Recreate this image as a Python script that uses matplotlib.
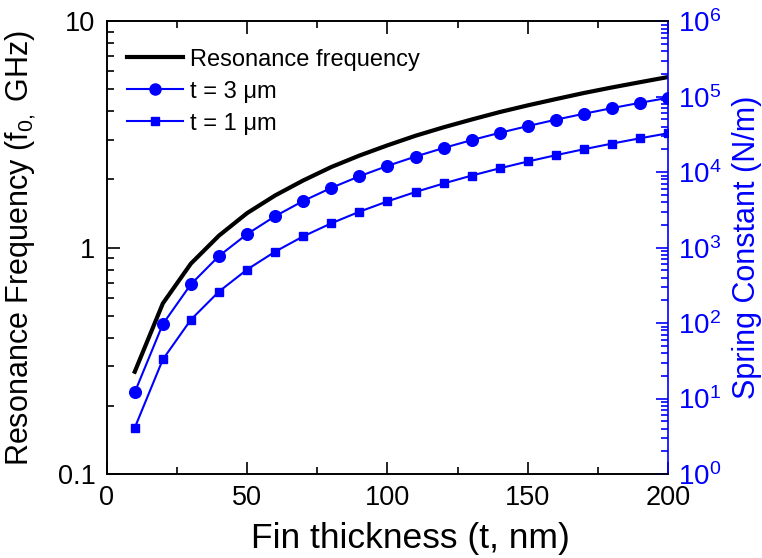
import matplotlib
matplotlib.use("Agg")
import matplotlib.pyplot as plt
from matplotlib.ticker import LogLocator, FixedLocator, FixedFormatter, LogFormatterMathtext, MultipleLocator, NullFormatter
from matplotlib.lines import Line2D

plt.rcParams['font.family'] = ['Liberation Sans', 'DejaVu Sans']
plt.rcParams['mathtext.fontset'] = 'custom'
plt.rcParams['mathtext.rm'] = 'Liberation Sans'
plt.rcParams['mathtext.it'] = 'Liberation Sans:italic'
plt.rcParams['mathtext.bf'] = 'Liberation Sans:bold'

# Data
thickness = [10, 20, 30, 40, 50, 60, 70, 80, 90, 100,
             110, 120, 130, 140, 150, 160, 170, 180, 190, 200]
freq_ghz = [0.283, 0.567, 0.85, 1.13, 1.42, 1.70, 1.98, 2.27, 2.55, 2.83,
            3.12, 3.40, 3.68, 3.97, 4.25, 4.53, 4.82, 5.10, 5.38, 5.67]
k_3um = [12.1, 97, 327, 775, 1510, 2610, 4150, 6190, 8820, 12100,
         16100, 20900, 26600, 33200, 40800, 49600, 59400, 70600, 83000, 96800]
k_1um = [4.1, 33, 111, 262, 512, 885, 1410, 2100, 2990, 4100,
         5460, 7080, 9010, 11250, 13840, 16790, 20140, 23910, 28120, 32800]

BLUE = (0, 0, 1)

fig = plt.figure(figsize=(7.62, 5.58), dpi=100)
ax = fig.add_axes([0.140, 0.1505, 0.737, 0.8115])
ax2 = ax.twinx()

ax.plot(thickness, freq_ghz, color='black', lw=3, zorder=3)
ax2.plot(thickness, k_3um, color=BLUE, lw=1.5, marker='o', ms=8.4, mec=BLUE, mfc=BLUE)
ax2.plot(thickness, k_1um, color=BLUE, lw=1.5, marker='s', ms=6, mec=BLUE, mfc=BLUE)

ax.set_xlim(0, 200)
ax.set_yscale('log')
ax.set_ylim(0.1, 10)
ax2.set_yscale('log')
ax2.set_ylim(1, 1e6)

# x ticks
ax.xaxis.set_major_locator(MultipleLocator(50))
ax.xaxis.set_minor_locator(MultipleLocator(25))
ax.tick_params(axis='x', which='both', direction='in', top=True, labelsize=19.5, pad=8, width=1.2)
ax.tick_params(axis='x', which='major', length=9)
ax.tick_params(axis='x', which='minor', length=5)

# left y ticks
ax.yaxis.set_major_locator(FixedLocator([0.1, 1, 10]))
ax.yaxis.set_major_formatter(FixedFormatter(['0.1', '1', '10']))
ax.yaxis.set_minor_locator(LogLocator(base=10, subs=range(2, 10), numticks=20))
ax.yaxis.set_minor_formatter(NullFormatter())
ax.tick_params(axis='y', which='both', direction='in', labelsize=19.5, pad=8, width=1.2, right=False)
ax.tick_params(axis='y', which='major', length=9)
ax.tick_params(axis='y', which='minor', length=5)

# right y ticks
ax2.yaxis.set_major_locator(LogLocator(base=10, numticks=10))
ax2.yaxis.set_major_formatter(LogFormatterMathtext())
ax2.yaxis.set_minor_locator(LogLocator(base=10, subs=range(2, 10), numticks=20))
ax2.yaxis.set_minor_formatter(NullFormatter())
ax2.tick_params(axis='y', which='both', direction='in', labelsize=20, pad=7, width=1.2,
                colors=BLUE, labelcolor=BLUE)
ax2.tick_params(axis='y', which='major', length=9)
ax2.tick_params(axis='y', which='minor', length=5)

for a in (ax, ax2):
    for s in a.spines.values():
        s.set_linewidth(1.2)
ax2.spines['right'].set_color(BLUE)
ax.spines['right'].set_visible(False)

ax.set_xlabel('Fin thickness (t, nm)', fontsize=25.5)
ax.xaxis.set_label_coords(0.54, -0.106)
ax.set_ylabel(r'Resonance Frequency (f$_{0,}$ GHz)', fontsize=22)
ax.yaxis.set_label_coords(-0.122, 0.5)
ax2.set_ylabel('Spring Constant (N/m)', fontsize=22, color=BLUE)
ax2.yaxis.set_label_coords(1.113, 0.5)

handles = [
    Line2D([], [], color='black', lw=3),
    Line2D([], [], color=BLUE, lw=1.5, marker='o', ms=8, mfc=BLUE, mec=BLUE),
    Line2D([], [], color=BLUE, lw=1.5, marker='s', ms=5.5, mfc=BLUE, mec=BLUE),
]
labels = ['Resonance frequency', 't = 3 \u03bcm', 't = 1 \u03bcm']
leg = ax2.legend(handles, labels, loc='upper left', bbox_to_anchor=(0.02, 0.96),
                 frameon=False, fontsize=17, handlelength=2.35, handletextpad=0.3,
                 labelspacing=0.42, borderaxespad=0.0)

fig.savefig('out.png', dpi=100)
